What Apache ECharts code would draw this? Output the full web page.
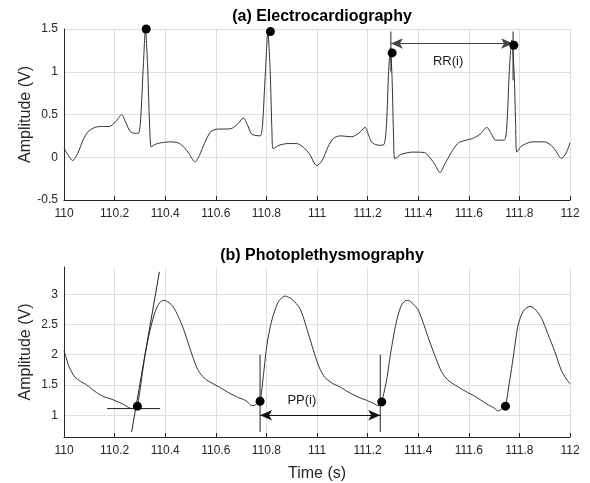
<!DOCTYPE html>
<html>
<head>
<meta charset="utf-8">
<script src="https://cdn.jsdelivr.net/npm/echarts@6/dist/echarts.min.js"></script>
<style>
  html, body { margin: 0; padding: 0; background: #fff; }
  #main { width: 590px; height: 483px; }
</style>
</head>
<body>
<div id="main"></div>
<script>
// ECG trace (time s, amplitude V)
var ecgT = [110.000, 110.015, 110.034, 110.055, 110.075, 110.095, 110.123, 110.150, 110.180, 110.205,
  110.228, 110.245, 110.262, 110.280, 110.294, 110.302, 110.314, 110.322, 110.330, 110.338,
  110.345, 110.360, 110.385, 110.420, 110.450, 110.470, 110.490, 110.518, 110.535, 110.555,
  110.580, 110.610, 110.640, 110.665, 110.690, 110.709, 110.725, 110.742, 110.775, 110.784,
  110.796, 110.806, 110.815, 110.822, 110.827, 110.850, 110.885, 110.920, 110.945, 110.970,
  110.999, 111.020, 111.045, 111.065, 111.090, 111.137, 111.165, 111.190, 111.205, 111.218,
  111.245, 111.265, 111.275, 111.283, 111.290, 111.297, 111.303, 111.308, 111.330, 111.375,
  111.425, 111.450, 111.465, 111.486, 111.505, 111.520, 111.540, 111.560, 111.590, 111.615,
  111.645, 111.671, 111.690, 111.705, 111.740, 111.750, 111.760, 111.770, 111.779, 111.785,
  111.790, 111.808, 111.850, 111.900, 111.925, 111.945, 111.966, 111.985, 112.000];
var ecgV = [0.11, 0.03, -0.04, 0.05, 0.20, 0.30, 0.35, 0.36, 0.36, 0.42,
  0.50, 0.40, 0.30, 0.28, 0.28, 0.40, 1.10, 1.49, 1.10, 0.40,
  0.12, 0.15, 0.17, 0.18, 0.17, 0.13, 0.06, -0.055, 0.02, 0.16,
  0.30, 0.33, 0.33, 0.34, 0.40, 0.46, 0.38, 0.27, 0.25, 0.35,
  1.00, 1.46, 1.00, 0.30, 0.10, 0.14, 0.16, 0.16, 0.12, 0.04,
  -0.10, -0.04, 0.13, 0.22, 0.25, 0.24, 0.28, 0.35, 0.25, 0.17,
  0.14, 0.15, 0.40, 1.00, 1.28, 0.90, 0.20, -0.02, 0.03, 0.06,
  0.055, -0.02, -0.08, -0.18, -0.08, 0.00, 0.10, 0.17, 0.20, 0.22,
  0.27, 0.35, 0.27, 0.20, 0.20, 0.35, 1.00, 1.37, 1.00, 0.40,
  0.06, 0.13, 0.18, 0.18, 0.14, 0.07, -0.015, 0.05, 0.17];

// detected R peaks
var rPeaks = [[110.325, 1.50], [110.816, 1.47], [111.297, 1.22], [111.778, 1.31]];
var rrMarks = [111.292, 111.775];
var rrLevel = 1.33;
var rrLabel = [[111.518, 1.12]];

// PPG trace
var ppgT = [110.000, 110.010, 110.020, 110.043, 110.065, 110.090, 110.120, 110.155, 110.185, 110.208,
  110.235, 110.254, 110.268, 110.280, 110.290, 110.305, 110.320, 110.340, 110.360, 110.378,
  110.395, 110.415, 110.432, 110.452, 110.472, 110.492, 110.511, 110.528, 110.544, 110.565,
  110.590, 110.620, 110.656, 110.690, 110.715, 110.730, 110.741, 110.752, 110.762, 110.775,
  110.788, 110.800, 110.813, 110.827, 110.848, 110.873, 110.900, 110.933, 110.962, 110.992,
  111.010, 111.030, 111.060, 111.090, 111.125, 111.163, 111.200, 111.225, 111.240, 111.250,
  111.256, 111.266, 111.276, 111.292, 111.308, 111.320, 111.334, 111.348, 111.360, 111.380,
  111.400, 111.422, 111.446, 111.470, 111.492, 111.515, 111.545, 111.585, 111.625, 111.655,
  111.677, 111.700, 111.716, 111.726, 111.735, 111.745, 111.757, 111.769, 111.782, 111.795,
  111.815, 111.842, 111.865, 111.888, 111.912, 111.940, 111.965, 111.985, 112.000];
var ppgV = [2.07, 1.93, 1.80, 1.63, 1.56, 1.50, 1.40, 1.31, 1.27, 1.23,
  1.18, 1.13, 1.11, 1.13, 1.16, 1.55, 1.99, 2.40, 2.71, 2.86,
  2.90, 2.86, 2.79, 2.63, 2.43, 2.18, 1.94, 1.76, 1.66, 1.58,
  1.52, 1.45, 1.36, 1.29, 1.25, 1.20, 1.16, 1.16, 1.19, 1.23,
  1.65, 2.10, 2.42, 2.65, 2.88, 2.97, 2.92, 2.76, 2.40, 1.99,
  1.78, 1.63, 1.53, 1.47, 1.38, 1.30, 1.24, 1.19, 1.16, 1.17,
  1.22, 1.40, 1.60, 2.05, 2.43, 2.65, 2.82, 2.89, 2.90, 2.84,
  2.74, 2.50, 2.21, 1.94, 1.72, 1.59, 1.50, 1.40, 1.31, 1.23,
  1.17, 1.12, 1.07, 1.09, 1.12, 1.15, 1.45, 1.77, 2.15, 2.49,
  2.72, 2.80, 2.74, 2.60, 2.35, 2.05, 1.75, 1.60, 1.52];

// pulse onsets
var pOnsets = [[110.290, 1.15], [110.775, 1.23], [111.256, 1.22], [111.745, 1.15]];
var ppMarks = [110.775, 111.25];
var ppLevel = 1.0;
var ppLabel = [[110.94, 1.25]];
var tangentLine = [[110.267, 0.72], [110.377, 3.37]];
var footLine = [[110.17, 1.11], [110.38, 1.11]];

var xTicks = { min: 110, max: 112, interval: 0.2 };

function zip(a, b) {
  var out = [];
  for (var i = 0; i < a.length; i++) out.push([a[i], b[i]]);
  return out;
}

var txt = '#262626';
var gridCol = '#dfdfdf';
var font = 'Liberation Sans';

function xAxis(idx, name) {
  return {
    type: 'value', gridIndex: idx, min: xTicks.min, max: xTicks.max, interval: xTicks.interval,
    name: name || '', nameLocation: 'middle', nameGap: 29,
    nameTextStyle: { color: txt, fontFamily: font, fontSize: 16 },
    axisLine: { onZero: false, lineStyle: { color: txt, width: 1 } },
    axisTick: { inside: true, length: 4, lineStyle: { color: txt } },
    axisLabel: { color: txt, fontFamily: font, fontSize: 12, margin: 8 },
    splitLine: { show: true, lineStyle: { color: gridCol } }
  };
}

function yAxis(idx, ext) {
  var ax = {
    type: 'value', gridIndex: idx, min: ext[0], max: ext[1],
    name: 'Amplitude (V)', nameLocation: 'middle', nameGap: 30, nameMoveOverlap: false,
    nameTextStyle: { color: txt, fontFamily: font, fontSize: 16 },
    axisLine: { show: true, onZero: false, lineStyle: { color: txt, width: 1 } },
    axisTick: { show: false },
    axisLabel: { color: txt, fontFamily: font, fontSize: 12, margin: 6 },
    splitLine: { show: true, lineStyle: { color: gridCol } }
  };
  if (ext[2]) ax.interval = ext[2];
  return ax;
}

var ppgY = yAxis(1, [0.64, 3.45]);
ppgY.splitNumber = 5;
ppgY.axisLabel.showMinLabel = false;
ppgY.axisLabel.showMaxLabel = false;
ppgY.splitLine.showMinLine = false;
ppgY.splitLine.showMaxLine = false;

function seg(p, q, xi) {
  return {
    type: 'line', xAxisIndex: xi, yAxisIndex: xi, data: [p, q], showSymbol: false,
    lineStyle: { color: '#222', width: 1 }, silent: true, animation: false, z: 3
  };
}

function textAt(pts, s, xi) {
  return {
    type: 'scatter', xAxisIndex: xi, yAxisIndex: xi, data: pts, symbolSize: 2,
    itemStyle: { color: 'rgba(255,255,255,0)', opacity: 1 }, silent: true, z: 6,
    label: { show: true, position: 'inside', formatter: s, color: '#1a1a1a', fontFamily: font, fontSize: 13 },
    labelLayout: { hideOverlap: false }
  };
}

var chart = echarts.init(document.getElementById('main'));
chart.setOption({
  animation: false,
  backgroundColor: '#fff',
  title: [
    { text: '(a) Electrocardiography', left: 317, top: 4, textAlign: 'center',
      textStyle: { fontFamily: font, fontSize: 16, fontWeight: 'bold', color: '#000' } },
    { text: '(b) Photoplethysmography', left: 317, top: 243, textAlign: 'center',
      textStyle: { fontFamily: font, fontSize: 16, fontWeight: 'bold', color: '#000' } }
  ],
  grid: [
    { left: 64, top: 29, width: 506, height: 171 },
    { left: 64, top: 267, width: 506, height: 170 }
  ],
  xAxis: [xAxis(0), xAxis(1, 'Time (s)')],
  yAxis: [yAxis(0, [-0.5, 1.5, 0.5]), ppgY],
  series: [
    {
      type: 'line', xAxisIndex: 0, yAxisIndex: 0, data: zip(ecgT, ecgV),
      showSymbol: false, smooth: 0.25, lineStyle: { color: '#333', width: 1 },
      markLine: {
        silent: true, symbol: ['arrow', 'arrow'], symbolSize: [8, 12],
        lineStyle: { color: '#444', width: 1, type: 'solid' },
        label: { show: false },
        data: [[{ coord: [rrMarks[0], rrLevel] }, { coord: [rrMarks[1], rrLevel] }]]
      }
    },
    seg([rrMarks[0], 1.47], [rrMarks[0], 1.0], 0),
    seg([rrMarks[1], 1.47], [rrMarks[1], 0.9], 0),
    {
      type: 'scatter', xAxisIndex: 0, yAxisIndex: 0, data: rPeaks,
      symbolSize: 9, itemStyle: { color: '#000', opacity: 1 }, z: 5
    },
    textAt(rrLabel, 'RR(i)', 0),
    {
      type: 'line', xAxisIndex: 1, yAxisIndex: 1, data: zip(ppgT, ppgV),
      showSymbol: false, smooth: 0.25, lineStyle: { color: '#333', width: 1 },
      markLine: {
        silent: true, symbol: ['arrow', 'arrow'], symbolSize: [8, 12],
        lineStyle: { color: '#111', width: 1, type: 'solid' },
        label: { show: false },
        data: [[{ coord: [ppMarks[0], ppLevel] }, { coord: [ppMarks[1], ppLevel] }]]
      }
    },
    seg(tangentLine[0], tangentLine[1], 1),
    seg(footLine[0], footLine[1], 1),
    seg([ppMarks[0], 2.0], [ppMarks[0], 0.72], 1),
    seg([ppMarks[1], 2.0], [ppMarks[1], 0.72], 1),
    {
      type: 'scatter', xAxisIndex: 1, yAxisIndex: 1, data: pOnsets,
      symbolSize: 9, itemStyle: { color: '#000', opacity: 1 }, z: 5
    },
    textAt(ppLabel, 'PP(i)', 1)
  ]
});
</script>
</body>
</html>
